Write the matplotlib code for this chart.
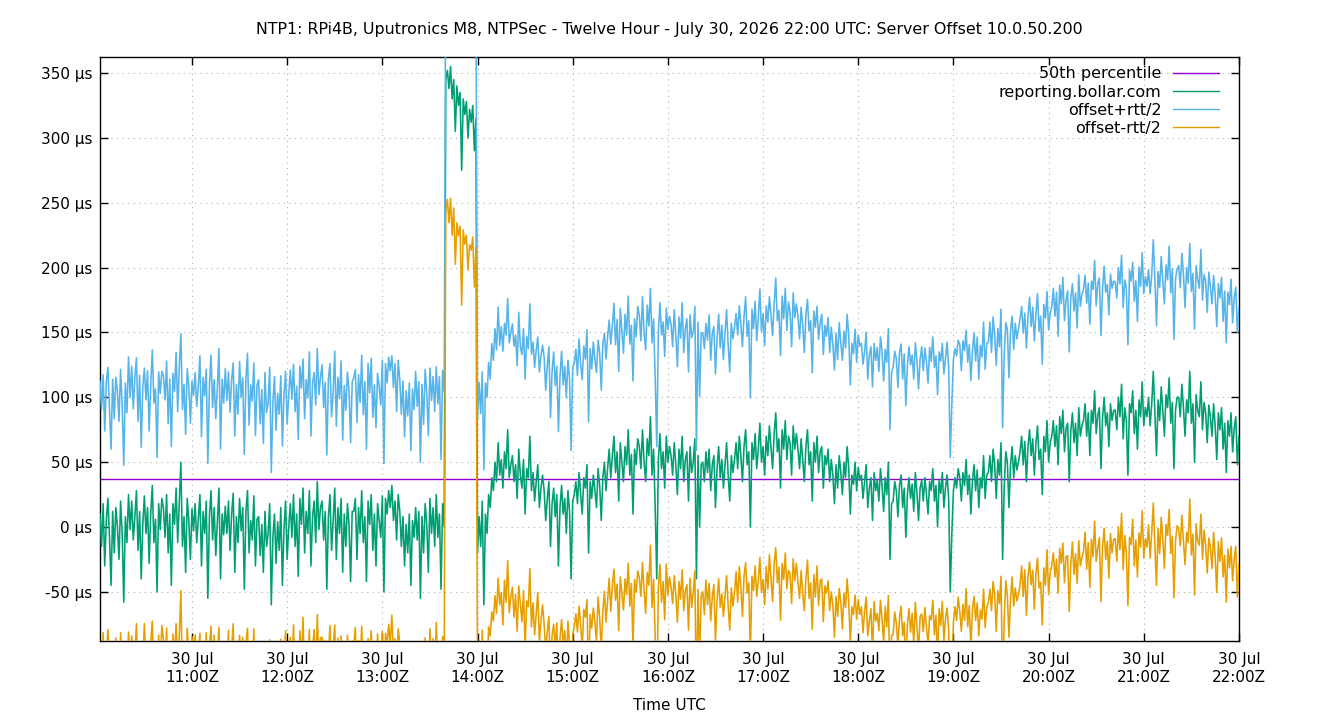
import matplotlib
matplotlib.use("Agg")
import matplotlib.pyplot as plt
import matplotlib.dates as mdates
from matplotlib.ticker import FuncFormatter, MultipleLocator
import numpy as np
import pandas as pd

# Titel / Achsen
title = ("NTP1: RPi4B, Uputronics M8, NTPSec - Twelve Hour - "
         "July 30, 2026 22:00 UTC: Server Offset 10.0.50.200")
xlabel = "Time UTC"
start = "2026-07-30 10:02"
step = "1min"

labels = ["50th percentile", "reporting.bollar.com", "offset+rtt/2", "offset-rtt/2"]
colors = ["#9400D3", "#009E73", "#56B4E9", "#E69F00"]

# 50th percentile (µs)
p50_us = 37

# Offset in µs, jede Minute ab 10:02 (eine Zeile = 20 Minuten)
offset_us = [
    10, -15, 18, -30, 5, 22, -8, -45, 12, -20, 15, 0, -25, 20, -5, -58, 8, -12, 25, -2,
    20, -10, 8, 28, -18, 12, -40, 2, 24, -5, 15, -28, 10, 32, -12, 6, -50, 18, -2, 22,
    15, -8, 25, -20, 10, -45, 18, 2, 30, -12, 20, 50, -15, 8, -35, 22, 5, -25, 14, -3,
    18, -12, 6, 25, -30, 12, -5, 20, -55, 8, 28, -10, 15, -22, 4, 30, -40, 10, -6, 16,
    -5, 20, -18, 10, 26, -35, 8, -12, 22, -3, 15, -48, 12, 28, -20, 5, -10, 24, -30, 6,
    8, -22, 2, -35, 12, -15, -5, 18, -60, -8, 10, -28, 4, -18, 15, -45, -2, 20, -25, 0,
    18, -8, 25, -15, 10, -38, 22, 2, 30, -20, 12, -5, 28, -30, 8, 20, -12, 35, -2, 15,
    20, -10, 12, -48, 8, 25, -18, 5, 30, -25, 15, -5, 22, -35, 10, -15, 18, 2, -42, 12,
    12, 22, -25, 15, -5, 28, -12, 8, -42, 20, 2, 25, -18, 10, -30, 18, 5, -8, 24, -50,
    22, 10, 28, 15, 32, 5, 20, -10, 25, 12, -15, 8, -30, 2, -20, 10, -45, 5, -8, 15,
    -10, 12, -55, 8, -20, 18, 2, -35, 22, -5, 15, -15, 25, -8, 10, -48, 18, 0, 345, 352,
    338, 355, 330, 345, 305, 340, 325, 335, 275, 330, 318, 328, 300, 322, 312, 325, 290, 315, -20, 8,
    -15, 20, -60, 10, -5, 25, 15, 38, 28, 50, 35, 65, 40, 52, 30, 58, 45, 75, 38, 48,
    55, 35, 48, 22, 60, 40, 30, 52, 10, 45, 38, 70, 28, 42, 20, 35, 48, 15, 30, 40,
    28, 5, 22, 35, -15, 18, 30, 8, 25, -30, 15, 32, 10, 22, -5, 28, 12, -40, 20, 25,
    35, 18, 42, 25, 10, 38, 30, 48, -20, 35, 22, 40, 28, 15, 45, 32, 5, 38, 50, 28,
    45, 60, 38, 55, 70, 42, 58, 20, 65, 50, 35, 62, 48, 75, 40, 56, 10, 60, 48, 68,
    62, 45, 75, 50, 35, 68, 55, 85, 40, 60, 15, -40, 52, 72, 45, 58, 30, 70, 50, 62,
    55, 40, 65, 48, 25, 60, 45, 70, 35, 52, 58, 20, 62, 42, 50, 68, -40, 55, 0, 48,
    50, 35, 58, 42, 60, 28, 48, 55, 15, 45, 62, 38, 52, 30, 48, 65, 40, 20, 55, 42,
    52, 65, 45, 70, 55, 35, 62, 75, 48, 58, 0, 65, 52, 72, 45, 60, 80, 50, 62, 40,
    70, 55, 78, 62, 45, 72, 88, 58, 68, 30, 75, 60, 82, 52, 70, 65, 40, 78, 60, 72,
    60, 45, 68, 52, 35, 62, 75, 48, 58, 20, 65, 50, 70, 42, 58, 62, 30, 55, 48, 60,
    35, 52, 40, 18, 48, 30, 55, 42, 25, 50, 38, 62, 45, 10, 40, 33, 50, 28, 46, 36,
    40, 22, 35, 48, 15, 30, 38, 5, 42, 28, 36, 20, 45, 32, 12, 38, 25, 50, -25, 18,
    20, 35, 28, 8, 32, 40, 15, 30, -8, 25, 38, 22, 33, 12, 42, 26, 5, 30, 36, 20,
    38, 25, 10, 35, 28, 45, 20, 32, 0, 36, 26, 42, 15, 30, 40, 22, -50, -5, 28, 38,
    30, 45, 38, 20, 42, 32, 52, 25, 40, 10, 36, 48, 28, 44, 15, 38, 30, 55, 22, 40,
    42, 55, 35, 60, 48, 22, 52, 40, 65, -25, 30, 58, 50, 15, 48, 62, 38, 55, 44, 50,
    58, 70, 48, 66, 35, 62, 75, 55, 68, 40, 64, 78, 52, 60, 25, 70, 58, 82, 50, 65,
    70, 82, 62, 78, 48, 85, 72, 90, 58, 76, 80, 35, 74, 88, 65, 80, 55, 92, 70, 78,
    82, 95, 70, 88, 55, 90, 80, 105, 72, 86, 92, 45, 84, 100, 78, 88, 62, 95, 82, 90,
    90, 75, 100, 85, 110, 68, 92, 82, 40, 95, 88, 105, 72, 90, 60, 98, 85, 112, 78, 92,
    85, 100, 78, 95, 120, 88, 55, 98, 82, 108, 90, 70, 102, 92, 115, 80, 96, 45, 90, 100,
    100, 85, 110, 92, 70, 98, 88, 120, 80, 95, 50, 102, 90, 85, 112, 75, 96, 88, 65, 94,
    85, 70, 95, 78, 52, 88, 75, 92, 60, 80, 42, 82, 70, 88, 58, 76, 85, 48, 70,
]

# Round-trip-time in µs, gleiche Zeitpunkte
rtt_us = [
    205, 211, 199, 208, 214, 202, 197, 210, 204, 207, 201, 209, 213, 203, 198, 211, 206, 200, 212, 204,
    208, 202, 215, 205, 199, 210, 203, 212, 197, 206, 211, 204, 198, 209, 215, 201, 207, 203, 210, 196,
    203, 212, 206, 199, 208, 214, 201, 205, 209, 202, 207, 198, 211, 204, 213, 200, 206, 210, 197, 209,
    202, 210, 205, 214, 199, 207, 212, 203, 208, 201, 209, 204, 197, 211, 206, 215, 200, 208, 203, 212,
    205, 199, 213, 207, 201, 210, 204, 198, 211, 206, 200, 208, 203, 212, 197, 209, 214, 205, 201, 207,
    211, 203, 208, 199, 214, 206, 201, 210, 204, 208, 212, 205, 198, 210, 203, 215, 207, 200, 209, 204,
    206, 213, 201, 208, 197, 211, 204, 210, 199, 207, 203, 209, 214, 200, 206, 198, 212, 205, 208, 201,
    210, 204, 199, 207, 213, 202, 206, 197, 211, 205, 201, 208, 212, 204, 198, 210, 203, 207, 214, 200,
    206, 199, 211, 205, 202, 209, 197, 208, 204, 212, 203, 210, 205, 199, 213, 201, 207, 204, 209, 198,
    208, 202, 206, 211, 200, 205, 212, 198, 207, 203, 204, 209, 199, 206, 211, 202, 208, 203, 197, 210,
    206, 200, 210, 204, 198, 207, 203, 211, 201, 205, 202, 208, 197, 206, 212, 200, 205, 209, 203, 199,
    207, 203, 210, 198, 205, 211, 201, 206, 208, 202, 200, 206, 204, 209, 197, 203, 210, 199, 205, 207,
    205, 199, 208, 202, 210, 204, 198, 207, 201, 206, 203, 209, 200, 205, 211, 198, 206, 202, 208, 204,
    203, 209, 200, 205, 211, 198, 206, 202, 208, 204, 199, 204, 210, 201, 206, 203, 197, 209, 204, 200,
    206, 201, 205, 208, 199, 204, 210, 202, 198, 207, 202, 207, 199, 204, 209, 201, 205, 198, 206, 203,
    204, 198, 206, 201, 207, 203, 199, 208, 202, 205, 200, 205, 202, 208, 198, 204, 201, 206, 199, 203,
    203, 199, 206, 201, 205, 197, 204, 200, 207, 202, 198, 204, 200, 206, 202, 199, 205, 201, 197, 204,
    202, 197, 205, 199, 203, 206, 200, 198, 204, 201, 199, 204, 198, 202, 206, 200, 203, 197, 205, 201,
    203, 198, 205, 200, 197, 204, 201, 206, 199, 202, 205, 199, 203, 208, 200, 204, 198, 206, 201, 203,
    200, 205, 198, 204, 207, 201, 203, 199, 206, 202, 204, 200, 207, 198, 203, 205, 201, 199, 204, 206,
    204, 199, 206, 201, 203, 208, 200, 205, 198, 202, 199, 206, 202, 204, 197, 203, 207, 201, 205, 200,
    201, 206, 199, 203, 205, 200, 208, 202, 198, 204, 206, 201, 204, 199, 207, 202, 198, 205, 203, 200,
    205, 200, 203, 207, 199, 204, 201, 206, 202, 198, 203, 208, 200, 205, 199, 204, 206, 201, 198, 203,
    199, 204, 201, 206, 203, 198, 205, 200, 207, 202, 200, 204, 206, 199, 203, 201, 205, 198, 204, 207,
    203, 207, 200, 204, 198, 205, 202, 206, 199, 201, 205, 200, 203, 207, 201, 198, 204, 206, 200, 203,
    206, 201, 204, 199, 205, 202, 198, 207, 203, 200, 202, 206, 199, 204, 200, 205, 203, 198, 206, 201,
    200, 205, 202, 207, 199, 203, 206, 200, 204, 198, 204, 199, 206, 201, 205, 202, 207, 200, 203, 199,
    204, 198, 206, 201, 203, 208, 199, 204, 201, 206, 199, 203, 200, 205, 198, 204, 202, 206, 199, 203,
    201, 206, 199, 204, 200, 205, 202, 198, 206, 203, 203, 199, 205, 200, 207, 201, 198, 204, 202, 205,
    205, 200, 203, 198, 206, 201, 204, 199, 203, 207, 200, 204, 198, 205, 201, 203, 206, 199, 204, 200,
    199, 204, 201, 206, 198, 203, 200, 205, 202, 198, 204, 200, 206, 199, 203, 201, 197, 205, 200, 203,
    202, 198, 205, 200, 203, 199, 206, 201, 197, 204, 200, 205, 199, 202, 206, 198, 203, 200, 204, 199,
    198, 203, 200, 205, 199, 202, 197, 204, 201, 206, 203, 198, 204, 200, 197, 205, 201, 199, 204, 202,
    201, 197, 204, 199, 203, 206, 200, 198, 205, 201, 199, 204, 200, 197, 203, 201, 206, 199, 202, 198,
    203, 199, 202, 206, 198, 204, 200, 197, 203, 201, 205, 199, 202, 198, 204, 200, 197, 203, 201, 205,
    200, 204, 198, 202, 205, 199, 203, 201, 197, 204, 200, 198, 203, 206, 199, 202, 200, 204, 198,
]

times = pd.date_range(start, periods=len(offset_us), freq=step)
off = np.array(offset_us, dtype=float)
rtt = np.array(rtt_us, dtype=float)

plt.rcParams["font.family"] = ["DejaVu Sans"]

fig, ax = plt.subplots(figsize=(13.4, 7.2), dpi=100)
fig.subplots_adjust(left=0.0746, right=0.9246, bottom=0.1097, top=0.9208)

# Reihenfolge wie gnuplot: Perzentil, Offset, +rtt/2, -rtt/2
lw = 1.15
ax.axhline(p50_us, color=colors[0], lw=1.0, label=labels[0], zorder=2)
ax.plot(times, off, color=colors[1], lw=lw, label=labels[1], zorder=3)
ax.plot(times, off + rtt / 2, color=colors[2], lw=lw, label=labels[2], zorder=4)
ax.plot(times, off - rtt / 2, color=colors[3], lw=lw, label=labels[3], zorder=5)

# Achsen
ax.set_xlim(times[0], times[-1])
ax.set_ylim(-87.9, 362.3)
ax.yaxis.set_major_locator(MultipleLocator(50))
ax.yaxis.set_major_formatter(FuncFormatter(lambda v, p: f"{int(round(v))} µs"))
ax.xaxis.set_major_locator(mdates.HourLocator())
ax.xaxis.set_major_formatter(mdates.DateFormatter("%d %b\n%H:%MZ"))

ax.tick_params(direction="in", length=6, width=1, top=True, right=True,
               labelsize=11, colors="black")
ax.tick_params(axis="x", pad=8)
ax.tick_params(axis="y", pad=5.5)
for lbl in ax.get_xticklabels():
    lbl.set_linespacing(1.2)
for sp in ax.spines.values():
    sp.set_linewidth(1.0)
    sp.set_color("black")

ax.grid(True, color="#b0b0b0", linestyle=(0, (1, 4)), linewidth=0.8)
ax.set_axisbelow(True)

ax.set_title(title, fontsize=11.4, pad=16.5)
ax.set_xlabel(xlabel, fontsize=11, labelpad=10)

leg = ax.legend(loc="upper right", bbox_to_anchor=(0.988, 0.995), borderaxespad=0,
                frameon=False, markerfirst=False, handlelength=2.9,
                handletextpad=0.7, labelspacing=0.2, fontsize=11.5)
for h in leg.get_lines():
    h.set_linewidth(1.0)

plt.savefig("out.png", dpi=100)
